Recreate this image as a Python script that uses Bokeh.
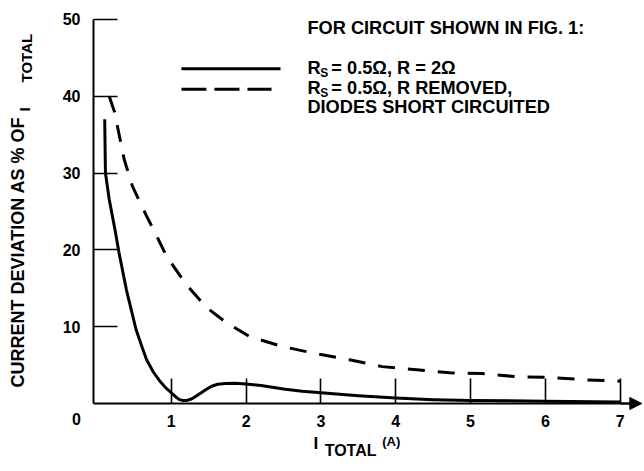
from bokeh.plotting import figure
from bokeh.models import Range1d, LinearAxis, FixedTicker, Label, Arrow, NormalHead
from bokeh.core.properties import value
from bokeh.embed import file_html
from bokeh.resources import INLINE
import math

# ---- data ----
x_solid = [0.11, 0.12, 0.17, 0.25, 0.30, 0.40, 0.53, 0.60, 0.67, 0.76, 0.84, 0.92, 1.00, 1.06,
           1.11, 1.16, 1.21, 1.27, 1.33, 1.40, 1.47, 1.54, 1.62, 1.72, 1.85, 2.00, 2.20, 2.50,
           2.75, 3.00, 3.50, 4.00, 4.50, 5.00, 6.00, 7.00]
y_solid = [37.0, 30.0, 26.6, 22.5, 19.7, 14.8, 9.6, 7.6, 5.7, 4.1, 3.0, 2.1, 1.4, 0.85,
           0.5, 0.38, 0.4, 0.58, 0.95, 1.4, 1.85, 2.25, 2.5, 2.6, 2.62, 2.55, 2.35, 1.9,
           1.6, 1.4, 1.0, 0.7, 0.5, 0.4, 0.3, 0.2]

x_dashed = [0.17, 0.24, 0.37, 0.48, 0.67, 0.78, 0.94, 1.20, 1.47, 1.74, 2.05, 2.49, 2.98, 3.38,
            3.82, 4.28, 4.72, 5.15, 5.60, 6.05, 6.50, 7.00]
y_dashed = [40.0, 38.0, 31.8, 28.3, 24.4, 22.3, 19.1, 15.5, 12.5, 10.5, 8.7, 7.4, 6.4, 5.7,
            4.8, 4.4, 4.0, 3.9, 3.5, 3.4, 3.1, 2.9]

x_ticks = [1, 2, 3, 4, 5, 6, 7]
y_ticks = [10, 20, 30, 40, 50]

title_text = "FOR CIRCUIT SHOWN IN FIG. 1:"
solid_label = "= 0.5\u03a9, R = 2\u03a9"
dashed_label_1 = "= 0.5\u03a9, R REMOVED,"
dashed_label_2 = "DIODES SHORT CIRCUITED"
y_label_main = "CURRENT DEVIATION AS % OF"

FONT = "Liberation Sans"
X0, X1 = -1.283, 7.299
Y0, Y1 = -8.594, 52.47
AXIS_X = -0.04

p = figure(width=642, height=469, output_backend="svg", toolbar_location=None,
           x_range=Range1d(X0, X1), y_range=Range1d(Y0, Y1),
           x_axis_location=None, y_axis_location=None,
           min_border_left=0, min_border_right=0, min_border_top=0, min_border_bottom=0)
p.outline_line_color = None
p.grid.visible = False
p.background_fill_color = "white"

label_style = dict(major_label_text_font=FONT, major_label_text_font_style="bold",
                   major_label_text_font_size="16px", major_label_text_color="black")

xaxis = LinearAxis(ticker=FixedTicker(ticks=x_ticks), bounds=(AXIS_X, 7.15), fixed_location=0,
                   axis_line_width=2, axis_line_color="black",
                   major_tick_in=25, major_tick_out=0, major_tick_line_width=1.6,
                   minor_tick_line_color=None, major_label_standoff=12, **label_style)
p.add_layout(xaxis, "below")

yaxis = LinearAxis(ticker=FixedTicker(ticks=y_ticks), bounds=(0, 50), fixed_location=AXIS_X,
                   axis_line_width=2, axis_line_color="black",
                   major_tick_in=24, major_tick_out=0, major_tick_line_width=1.6,
                   minor_tick_line_color=None, major_label_standoff=13, **label_style)
p.add_layout(yaxis, "left")

p.add_layout(Arrow(end=NormalHead(size=12, fill_color="black", line_color="black", line_width=1),
                   x_start=7.0, y_start=0, x_end=7.29, y_end=0, line_width=2, line_color="black"))

# curves
p.line(x_solid, y_solid, line_width=3, line_color="black", line_join="round")
p.line(x_dashed, y_dashed, line_width=3, line_color="black", line_dash="17 13")

# legend samples
p.line([1.136, 2.46], [43.6, 43.6], line_width=3, line_color="black")
p.line([1.136, 2.34], [40.9, 40.9], line_width=3, line_color="black", line_dash="25 8")

txt = dict(text_font=value(FONT), text_font_size="18.2px", text_font_style="bold",
           text_color="black", text_baseline="middle", text_align="left")
p.text(x=[2.82], y=[48.83], text=[title_text], **txt)
p.text(x=[2.82, 2.82], y=[43.62, 41.02], text=["R", "R"], **txt)
p.text(x=[2.99, 2.99], y=[43.0, 40.4], text=["S", "S"], text_font=value(FONT),
       text_font_size="12px", text_font_style="bold", text_baseline="middle",
       text_align="left", text_color="black")
p.text(x=[3.14, 3.14], y=[43.62, 41.02], text=[solid_label, dashed_label_1], **txt)
p.text(x=[2.82], y=[38.54], text=[dashed_label_2], **txt)

lab = dict(text_font=FONT, text_font_style="bold", text_color="black")

# origin label
p.add_layout(Label(x=-0.267, y=-2.08, text="0", text_font_size="16px",
                   text_align="center", text_baseline="middle", **lab))

# y axis title (rotated)
p.add_layout(Label(x=-1.043, y=2.08, text=y_label_main, angle=math.pi / 2,
                   text_font_size="18px", text_align="left", text_baseline="middle", **lab))
p.add_layout(Label(x=-0.96, y=38.3, text="I", angle=math.pi / 2,
                   text_font_size="15px", text_align="center", text_baseline="middle", **lab))
p.add_layout(Label(x=-0.93, y=41.8, text="TOTAL", angle=math.pi / 2,
                   text_font_size="15px", text_align="left", text_baseline="middle", **lab))

# x axis title
p.add_layout(Label(x=2.90, y=-5.2, text="I", text_font_size="17px",
                   text_align="left", text_baseline="middle", **lab))
p.add_layout(Label(x=3.05, y=-6.12, text="TOTAL", text_font_size="16px",
                   text_align="left", text_baseline="middle", **lab))
p.add_layout(Label(x=3.82, y=-4.95, text="(A)", text_font_size="13px",
                   text_align="left", text_baseline="middle", **lab))

open("out.html", "w").write(file_html(p, INLINE))
